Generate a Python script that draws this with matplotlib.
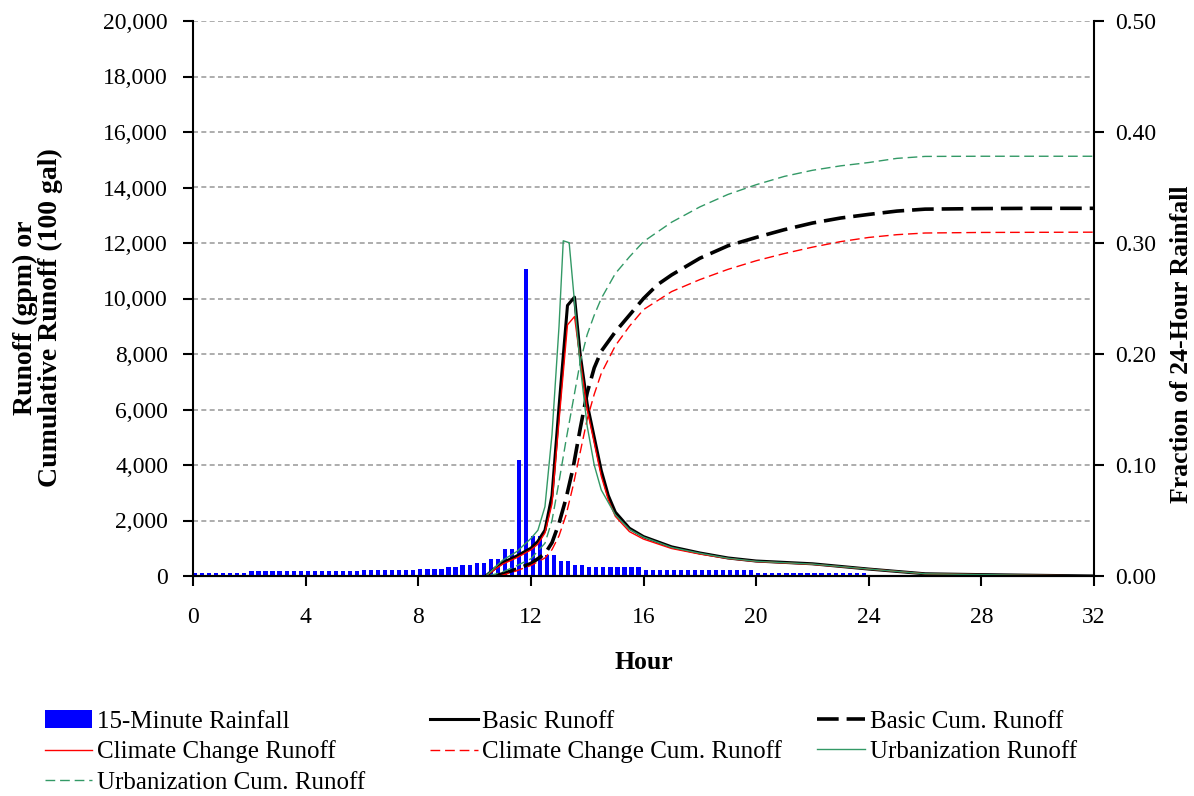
import numpy as np
import matplotlib
matplotlib.use('Agg')
import matplotlib.pyplot as plt

# ---------------------------------------------------------------
# data
# 15-minute rainfall as fraction of the 24-hour total (96 steps, 0-24 h)
rain_frac = ([0.0027] * 8 + [0.0042] * 16 + [0.0054] * 8 + [0.0066] * 4 +
             [0.0081] * 2 + [0.0096] * 2 + [0.0117] * 2 + [0.0153] * 2 +
             [0.0243] * 2 + [0.1045, 0.2770] + [0.0363] * 2 + [0.0190] * 2 +
             [0.0135] * 2 + [0.0100] * 2 + [0.0078] * 8 + [0.0051] * 16 +
             [0.0027] * 16)
rain_hour = np.arange(len(rain_frac)) * 0.25

# runoff hydrographs (gpm)
basic_t = [10.4, 10.75, 11.0, 11.5, 12.0, 12.25, 12.5, 12.75, 13.0, 13.3, 13.55,
           13.75, 14.0, 14.5, 14.75, 15.0, 15.5, 16.0, 17.0, 18.0, 19.0, 20.0,
           22.0, 24.0, 26.0, 28.0, 30.0, 32.0]
basic_q = [0, 300, 480, 720, 1000, 1250, 1650, 2900, 6100, 9750, 10050,
           8000, 6200, 3800, 2900, 2300, 1720, 1420, 1050, 830, 650, 540,
           440, 250, 80, 50, 25, 0]

climate_t = basic_t
climate_q = [0, 260, 430, 660, 940, 1150, 1550, 2600, 5600, 9050, 9350,
             7800, 6000, 3600, 2750, 2150, 1600, 1330, 990, 790, 630, 520,
             420, 250, 80, 50, 25, 0]

urban_t = [10.4, 11.0, 11.5, 12.0, 12.25, 12.5, 12.75, 13.0, 13.15, 13.36,
           13.75, 14.0, 14.25, 14.5, 15.0, 15.5, 16.0, 17.0, 18.0, 19.0, 20.0,
           22.0, 24.0, 26.0, 28.0, 30.0, 32.0]
urban_q = [0, 570, 880, 1350, 1650, 2500, 5100, 9000, 12080, 12010,
           7600, 5400, 4000, 3100, 2200, 1680, 1400, 1030, 820, 640, 530,
           430, 250, 80, 50, 25, 0]

# cumulative runoff (100 gal)
basic_cum_t = [10.75, 11.0, 11.5, 12.0, 12.5, 12.75, 13.0, 13.25, 13.5, 13.75,
               14.0, 14.25, 14.5, 15.0, 15.5, 16.0, 16.5, 17.0, 18.0, 19.0,
               20.0, 21.0, 22.0, 23.0, 24.0, 25.0, 26.0, 28.0, 30.0, 32.0]
basic_cum = [0, 80, 250, 450, 800, 1200, 1900, 2800, 3900, 5300,
             6600, 7500, 8100, 8800, 9400, 10000, 10500, 10850, 11450, 11900,
             12200, 12480, 12720, 12900, 13030, 13150, 13220, 13240, 13250, 13250]

climate_cum_t = [10.9, 11.5, 12.0, 12.5, 12.75, 13.0, 13.25, 13.5, 13.75, 14.0,
                 14.25, 14.5, 15.0, 15.5, 16.0, 17.0, 18.0, 19.0, 20.0, 21.0,
                 22.0, 23.0, 24.0, 25.0, 26.0, 28.0, 32.0]
climate_cum = [0, 190, 380, 650, 950, 1450, 2200, 3250, 4450, 5650,
               6550, 7300, 8300, 9000, 9600, 10250, 10680, 11050, 11360, 11620,
               11850, 12050, 12200, 12300, 12360, 12380, 12390]

urban_cum_t = [10.5, 11.0, 11.5, 12.0, 12.5, 12.75, 13.0, 13.25, 13.5, 13.75,
               14.0, 14.25, 14.5, 15.0, 15.5, 16.0, 17.0, 18.0, 19.0, 20.0,
               21.0, 22.0, 23.0, 24.0, 25.0, 26.0, 28.0, 32.0]
urban_cum = [0, 150, 370, 620, 1180, 2000, 3400, 4900, 6300, 7700,
             8700, 9400, 10000, 10900, 11500, 12050, 12750, 13300, 13750, 14100,
             14400, 14620, 14780, 14900, 15050, 15120, 15126, 15126]

xticks = np.arange(0, 33, 4)
# ---------------------------------------------------------------

plt.rcParams['font.family'] = ['Liberation Serif', 'DejaVu Serif']
fs = 17

fig = plt.figure(figsize=(11.94, 7.96), dpi=100)
ax1 = fig.add_axes([193 / 1194, 1 - 576 / 796, (1094 - 193) / 1194, (576 - 21) / 796])
ax2 = ax1.twinx()

# bars on the right (fraction) axis, behind the runoff lines
ax1.set_zorder(2)
ax2.set_zorder(1)
ax1.patch.set_visible(False)

bars = ax2.bar(rain_hour, rain_frac, width=0.15, align='edge', color='#0000FF',
               linewidth=0, label='15-Minute Rainfall', zorder=3)
ax2.set_ylim(0, 0.5)
ax2.set_yticks(np.arange(0, 0.51, 0.1))
ax2.set_yticks(np.arange(0, 0.51, 0.05), minor=True)
ax2.yaxis.set_major_formatter(matplotlib.ticker.FormatStrFormatter('%.2f'))
ax2.tick_params(axis='y', which='major', direction='out', length=7, width=1.5, labelsize=fs, pad=8)
ax2.tick_params(axis='y', which='minor', length=0)
ax2.grid(axis='y', which='both', color='#A0A0A0', linestyle=(0, (3, 2)), linewidth=1.2, zorder=0)
ax2.set_axisbelow(True)

l1, = ax1.plot(basic_t, basic_q, color='black', lw=2.2, label='Basic Runoff')
l2, = ax1.plot(basic_cum_t, basic_cum, color='black', lw=2.6, dashes=(6, 2.2),
               label='Basic Cum. Runoff')
l3, = ax1.plot(climate_t, climate_q, color='#FF0000', lw=1.0, label='Climate Change Runoff')
l4, = ax1.plot(climate_cum_t, climate_cum, color='#FF0000', lw=1.0, dashes=(7, 3.5),
               label='Climate Change Cum. Runoff')
l5, = ax1.plot(urban_t, urban_q, color='#339966', lw=1.0, label='Urbanization Runoff')
l6, = ax1.plot(urban_cum_t, urban_cum, color='#339966', lw=1.0, dashes=(7, 3.5),
               label='Urbanization Cum. Runoff')

ax1.set_xlim(0, 32)
ax1.set_ylim(0, 20000)
ax1.set_xticks(xticks)
ax1.set_yticks(np.arange(0, 20001, 2000))
ax1.yaxis.set_major_formatter(matplotlib.ticker.StrMethodFormatter('{x:,.0f}'))
ax1.tick_params(axis='y', direction='out', length=7, width=1.5, labelsize=fs, pad=11)
ax1.tick_params(axis='x', direction='out', length=7, width=1.5, labelsize=fs, pad=15)
ax1.set_xlabel('Hour', fontsize=18.5, fontweight='bold', labelpad=17)

# axis titles placed as free text, centred where the original has them
fig.text(38 / 1194, 1 - 318 / 796, 'Runoff (gpm) or\nCumulative Runoff (100 gal)',
         rotation=90, ha='center', va='center', multialignment='center',
         fontsize=20, fontweight='bold', linespacing=1.0)
fig.text(1181 / 1194, 1 - 344 / 796, 'Fraction of 24-Hour Rainfall',
         rotation=90, ha='center', va='center', fontsize=18.5, fontweight='bold')

for a in (ax1, ax2):
    a.spines['top'].set_visible(False)
    for s in ('left', 'right', 'bottom'):
        a.spines[s].set_linewidth(1.5)
ax1.spines['right'].set_visible(False)
ax2.spines['left'].set_visible(False)

# legend: three columns placed like the original, rows read left to right
columns = [([bars, l3, l6], 45), ([l1, l4], 430), ([l2, l5], 817)]
for hs, xpix in columns:
    fig.legend(hs, [h.get_label() for h in hs], loc='upper left',
               bbox_to_anchor=(xpix / 1194, 1 - 710 / 796), ncol=1, frameon=False,
               fontsize=18, handlelength=1.9, handletextpad=0.2,
               labelspacing=0.32, borderpad=0, borderaxespad=0)

plt.savefig('out.png', dpi=100)
